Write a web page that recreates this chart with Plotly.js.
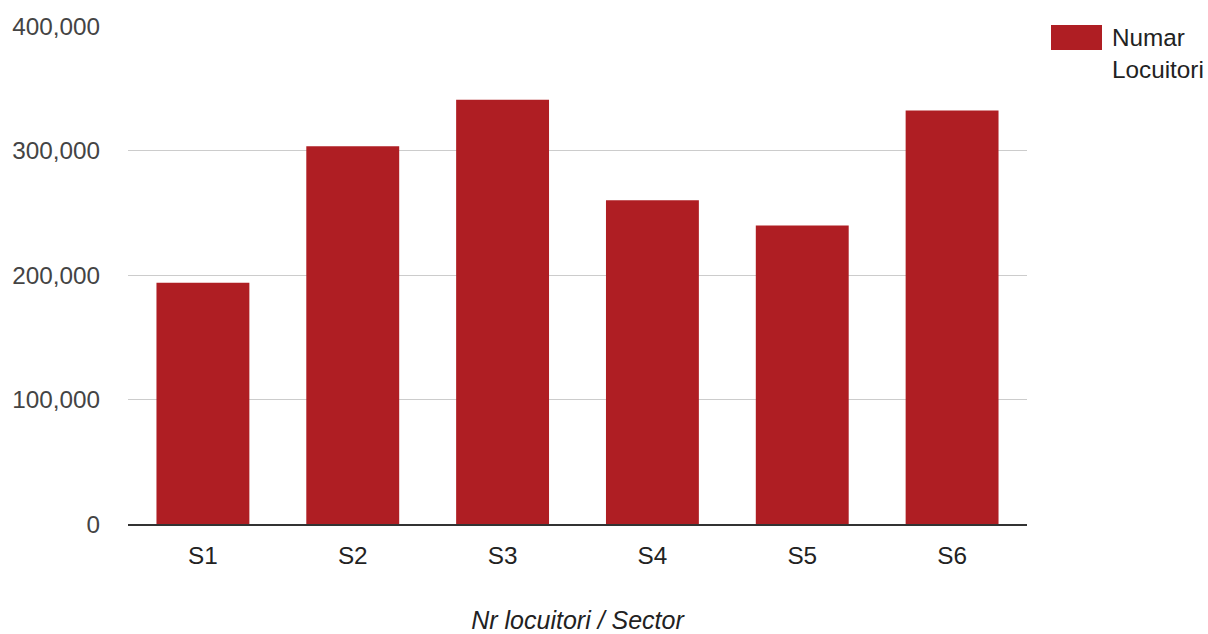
<!DOCTYPE html>
<html>
<head>
<meta charset="utf-8">
<script src="https://cdn.plot.ly/plotly-3.0.1.min.js"></script>
<style>html,body{margin:0;padding:0;background:#fff;}#chart{width:1208px;height:634px;}</style>
</head>
<body>
<div id="chart"></div>
<script>
const categories = ["S1", "S2", "S3", "S4", "S5", "S6"];
const locuitori = [193700, 303400, 340800, 260100, 239800, 332200];
const seriesName = "Numar<br>Locuitori";
const yTicks = [0, 100000, 200000, 300000, 400000];
const xTitle = "Nr locuitori / Sector";
const barColor = "#AF1E23";

const trace = {
  type: "bar",
  x: categories,
  y: locuitori,
  name: seriesName,
  marker: {color: barColor, line: {width: 0}},
  hoverinfo: "x+y"
};

const layout = {
  width: 1208, height: 634,
  margin: {l: 128, r: 181, t: 26, b: 110, pad: 0},
  paper_bgcolor: "#fff", plot_bgcolor: "#fff",
  font: {family: "Arial, Liberation Sans, sans-serif", size: 24.3, color: "#444"},
  showlegend: false,
  bargap: 0.38,
  xaxis: {
    type: "category",
    showgrid: false,
    showline: true, linecolor: "#333", linewidth: 1.5,
    ticks: "", ticklabelstandoff: 9,
    tickfont: {size: 24.3, color: "#222"},
    title: {text: xTitle, font: {size: 25, color: "#222", style: "italic"}, standoff: 47}
  },
  yaxis: {
    range: [0, 400000],
    tickvals: yTicks,
    tickformat: ",",
    showgrid: true, gridcolor: "#ccc", gridwidth: 1,
    zeroline: false, showline: false,
    ticks: "", ticklabelstandoff: 27,
    tickfont: {size: 24.3, color: "#444"}
  },
  shapes: [{
    type: "rect", xref: "paper", yref: "paper",
    x0: (1051 - 128) / 899, x1: (1102 - 128) / 899,
    y0: (524 - 50) / 498, y1: (524 - 25) / 498,
    fillcolor: barColor, line: {width: 0}
  }],
  annotations: [{
    xref: "paper", yref: "paper",
    x: (1110 - 128) / 899, y: (524 - 22) / 498,
    xanchor: "left", yanchor: "top", align: "left",
    showarrow: false,
    text: seriesName,
    font: {size: 24.3, color: "#222"}
  }]
};

Plotly.newPlot("chart", [trace], layout, {displayModeBar: false, staticPlot: true});
</script>
</body>
</html>
